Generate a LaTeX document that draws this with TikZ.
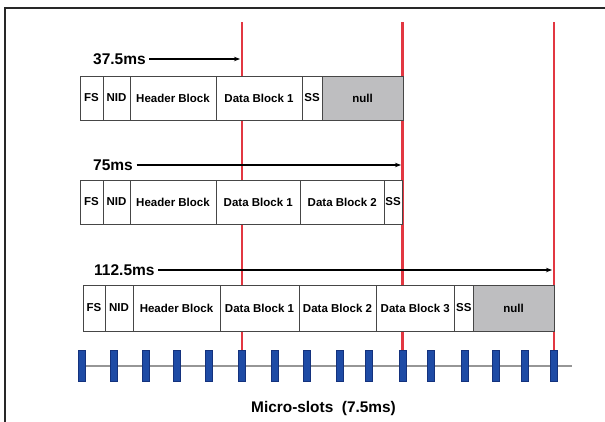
\documentclass[tikz,border=0pt]{standalone}
\usepackage{fontspec}
\setmainfont{Liberation Sans}
\usetikzlibrary{arrows.meta}
\definecolor{redline}{RGB}{226,55,65}
\definecolor{slotblue}{RGB}{30,75,165}
\definecolor{slotdark}{RGB}{20,50,125}
\definecolor{nullgray}{RGB}{190,190,192}
\definecolor{boxline}{RGB}{70,70,70}
\definecolor{baseg}{RGB}{150,150,150}
\definecolor{framec}{RGB}{40,40,40}
\tikzset{
  cell/.style={draw=boxline, line width=0.9pt, fill=white, minimum height=44pt,
    inner sep=0pt, outer sep=0pt, anchor=north west,
    font=\bfseries\fontsize{11.5}{13}\selectfont},
  tall/.style={minimum height=46pt},
  nullcell/.style={fill=nullgray},
  mslabel/.style={anchor=west, inner sep=3.5pt, font=\bfseries\fontsize{15.5}{17}\selectfont},
  arr/.style={line width=1.1pt, -{Stealth[length=6pt,width=4.5pt]}},
  rline/.style={draw=redline, line width=2.8pt},
  slot/.style={draw=slotdark, line width=0.5pt, fill=slotblue, minimum width=7pt,
    minimum height=31pt, inner sep=0pt},
  baseln/.style={draw=baseg, line width=1.5pt},
}
\begin{document}
\begin{tikzpicture}[x=1pt,y=-1pt]
\useasboundingbox (0,0) rectangle (605,421);
\fill[white] (0,0) rectangle (605,421);
% frame (left and top only visible)
\draw[framec, line width=2.8pt] (5,430) -- (5,8) -- (615,8);

% baseline
\coordinate (b0) at (82,366);
\coordinate (b1) at (572,366);
\draw[baseln] (b0) -- (b1);

% micro-slots
\foreach \x [count=\i] in {82,114,146,177,209,242,275,307,340,369,402.5,431,465,496,525,554}
  \node[slot] (s\i) at (\x,366) {};

% red lines
\coordinate (t1) at (242,22);
\coordinate (t2) at (402.5,22);
\coordinate (t3) at (554,22);
\draw[rline] (t1) -- (s6.north);
\draw[rline] (t2) -- (s11.north);
\draw[rline] (t3) -- (s16.north);

% row 1
\node[cell, minimum width=23pt] (r1fs) at (80,76) {FS};
\node[cell, minimum width=27pt] (r1nid) at (r1fs.north east) {NID};
\node[cell, minimum width=86pt] (r1hb) at (r1nid.north east) {Header Block};
\node[cell, minimum width=86pt] (r1d1) at (r1hb.north east) {Data Block 1};
\node[cell, minimum width=20pt] (r1ss) at (r1d1.north east) {SS};
\node[cell, nullcell, minimum width=81pt] (r1null) at (r1ss.north east) {null};

% row 2
\node[cell, minimum width=23pt] (r2fs) at (80,180) {FS};
\node[cell, minimum width=27pt] (r2nid) at (r2fs.north east) {NID};
\node[cell, minimum width=86pt] (r2hb) at (r2nid.north east) {Header Block};
\node[cell, minimum width=84.5pt] (r2d1) at (r2hb.north east) {Data Block 1};
\node[cell, minimum width=83.5pt] (r2d2) at (r2d1.north east) {Data Block 2};
\node[cell, minimum width=18pt] (r2ss) at (r2d2.north east) {SS};

% row 3
\node[cell, tall, minimum width=22pt] (r3fs) at (83,285) {FS};
\node[cell, tall, minimum width=28pt] (r3nid) at (r3fs.north east) {NID};
\node[cell, tall, minimum width=87pt] (r3hb) at (r3nid.north east) {Header Block};
\node[cell, tall, minimum width=79pt] (r3d1) at (r3hb.north east) {Data Block 1};
\node[cell, tall, minimum width=77pt] (r3d2) at (r3d1.north east) {Data Block 2};
\node[cell, tall, minimum width=78.5pt] (r3d3) at (r3d2.north east) {Data Block 3};
\node[cell, tall, minimum width=18.5pt] (r3ss) at (r3d3.north east) {SS};
\node[cell, tall, nullcell, minimum width=81pt] (r3null) at (r3ss.north east) {null};

% time labels and arrows
\node[mslabel] (l1) at (89.5,59) {37.5ms};
\coordinate (a1) at (240,59);
\draw[arr] (l1.east) -- (a1);

\node[mslabel] (l2) at (89.5,165) {75ms};
\coordinate (a2) at (401,165);
\draw[arr] (l2.east) -- (a2);

\node[mslabel] (l3) at (90.5,270) {112.5ms};
\coordinate (a3) at (552,270);
\draw[arr] (l3.east) -- (a3);

% caption
\node[font=\bfseries\fontsize{15.4}{18}\selectfont] (cap) at (323.5,409) {Micro-slots\ \ (7.5ms)};
\end{tikzpicture}
\end{document}
